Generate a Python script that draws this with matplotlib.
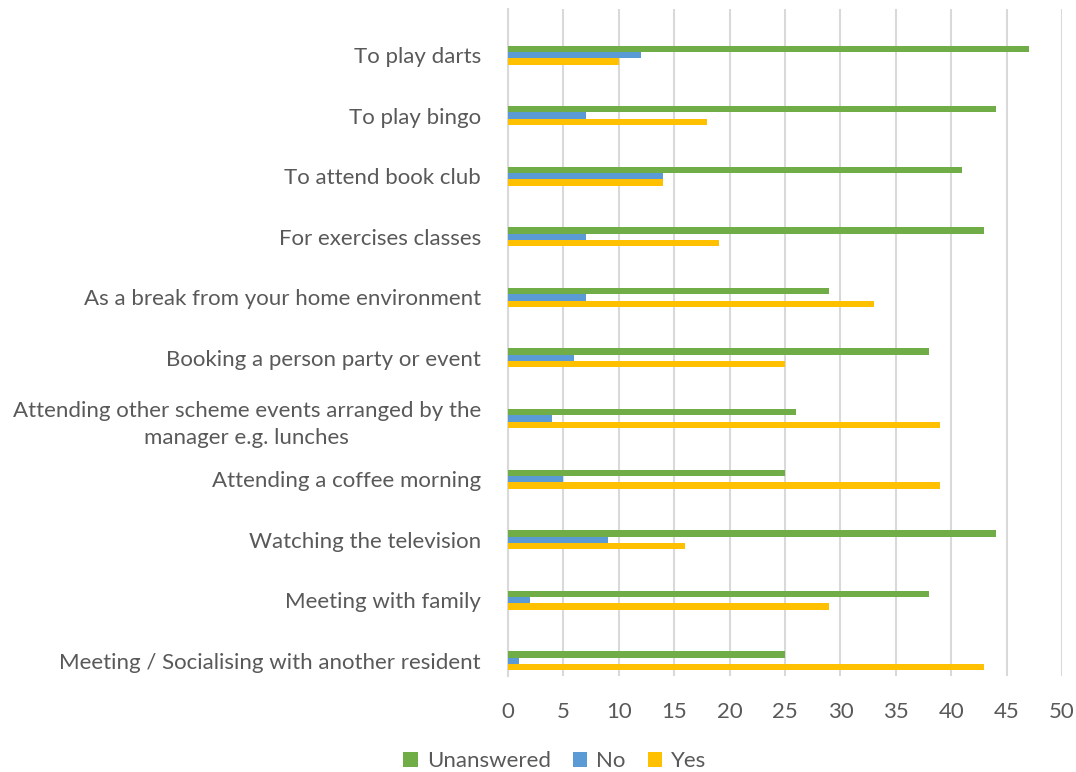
import matplotlib
matplotlib.use("Agg")
import matplotlib.pyplot as plt
import numpy as np

# Categories listed bottom to top
categories = [
    "Meeting / Socialising with another resident",
    "Meeting with family",
    "Watching the television",
    "Attending a coffee morning",
    "Attending other scheme events arranged by the\nmanager e.g. lunches",
    "Booking a person party or event",
    "As a break from your home environment",
    "For exercises classes",
    "To attend book club",
    "To play bingo",
    "To play darts",
]
unanswered = [25, 38, 44, 25, 26, 38, 29, 43, 41, 44, 47]
no = [1, 2, 9, 5, 4, 6, 7, 7, 14, 7, 12]
yes = [43, 29, 16, 39, 39, 25, 33, 19, 14, 18, 10]

GREEN = "#70AD47"
BLUE = "#5B9BD5"
YELLOW = "#FFC000"
TEXT = "#595959"
GRID = "#D9D9D9"
FS = 16

plt.rcParams["font.family"] = ["Lato", "DejaVu Sans"]

W, H = 1076, 772
fig = plt.figure(figsize=(W / 100, H / 100), dpi=100)
# axes box in pixels: left 508, right 1062, top 9, bottom 676
ax = fig.add_axes([508 / W, 1 - 676 / H, (1062 - 508) / W, (676 - 9) / H])

y = np.arange(len(categories))
h = 0.105
ax.barh(y + h, unanswered, height=h, color=GREEN, label="Unanswered", zorder=3)
ax.barh(y, no, height=h, color=BLUE, label="No", zorder=3)
ax.barh(y - h, yes, height=h, color=YELLOW, label="Yes", zorder=3)

ax.set_xlim(0, 50)
ax.set_ylim(-0.25, 10.76)
ax.set_xticks(range(0, 51, 5))
ax.grid(axis="x", color=GRID, linewidth=1.5, zorder=0)
ax.set_axisbelow(True)

ax.set_yticks(y)
ax.set_yticklabels(categories, ha="right", multialignment="center")
for lbl in ax.get_yticklabels():
    lbl.set_linespacing(1.45)
ax.tick_params(axis="y", length=0, pad=19.5, labelsize=FS, labelcolor=TEXT)
ax.tick_params(axis="x", length=0, pad=19, labelsize=FS, labelcolor=TEXT)
for side in ("top", "right", "bottom"):
    ax.spines[side].set_visible(False)
ax.spines["left"].set_color(GRID)
ax.spines["left"].set_linewidth(1.5)

handles, labels = ax.get_legend_handles_labels()
fig.legend(handles, labels, loc="center", bbox_to_anchor=(555 / W, 1 - 761 / H),
           ncol=3, frameon=False, fontsize=FS, labelcolor=TEXT,
           handlelength=0.65, handleheight=0.65, handletextpad=0.4,
           columnspacing=1.0)

fig.savefig("out.png", dpi=100)
